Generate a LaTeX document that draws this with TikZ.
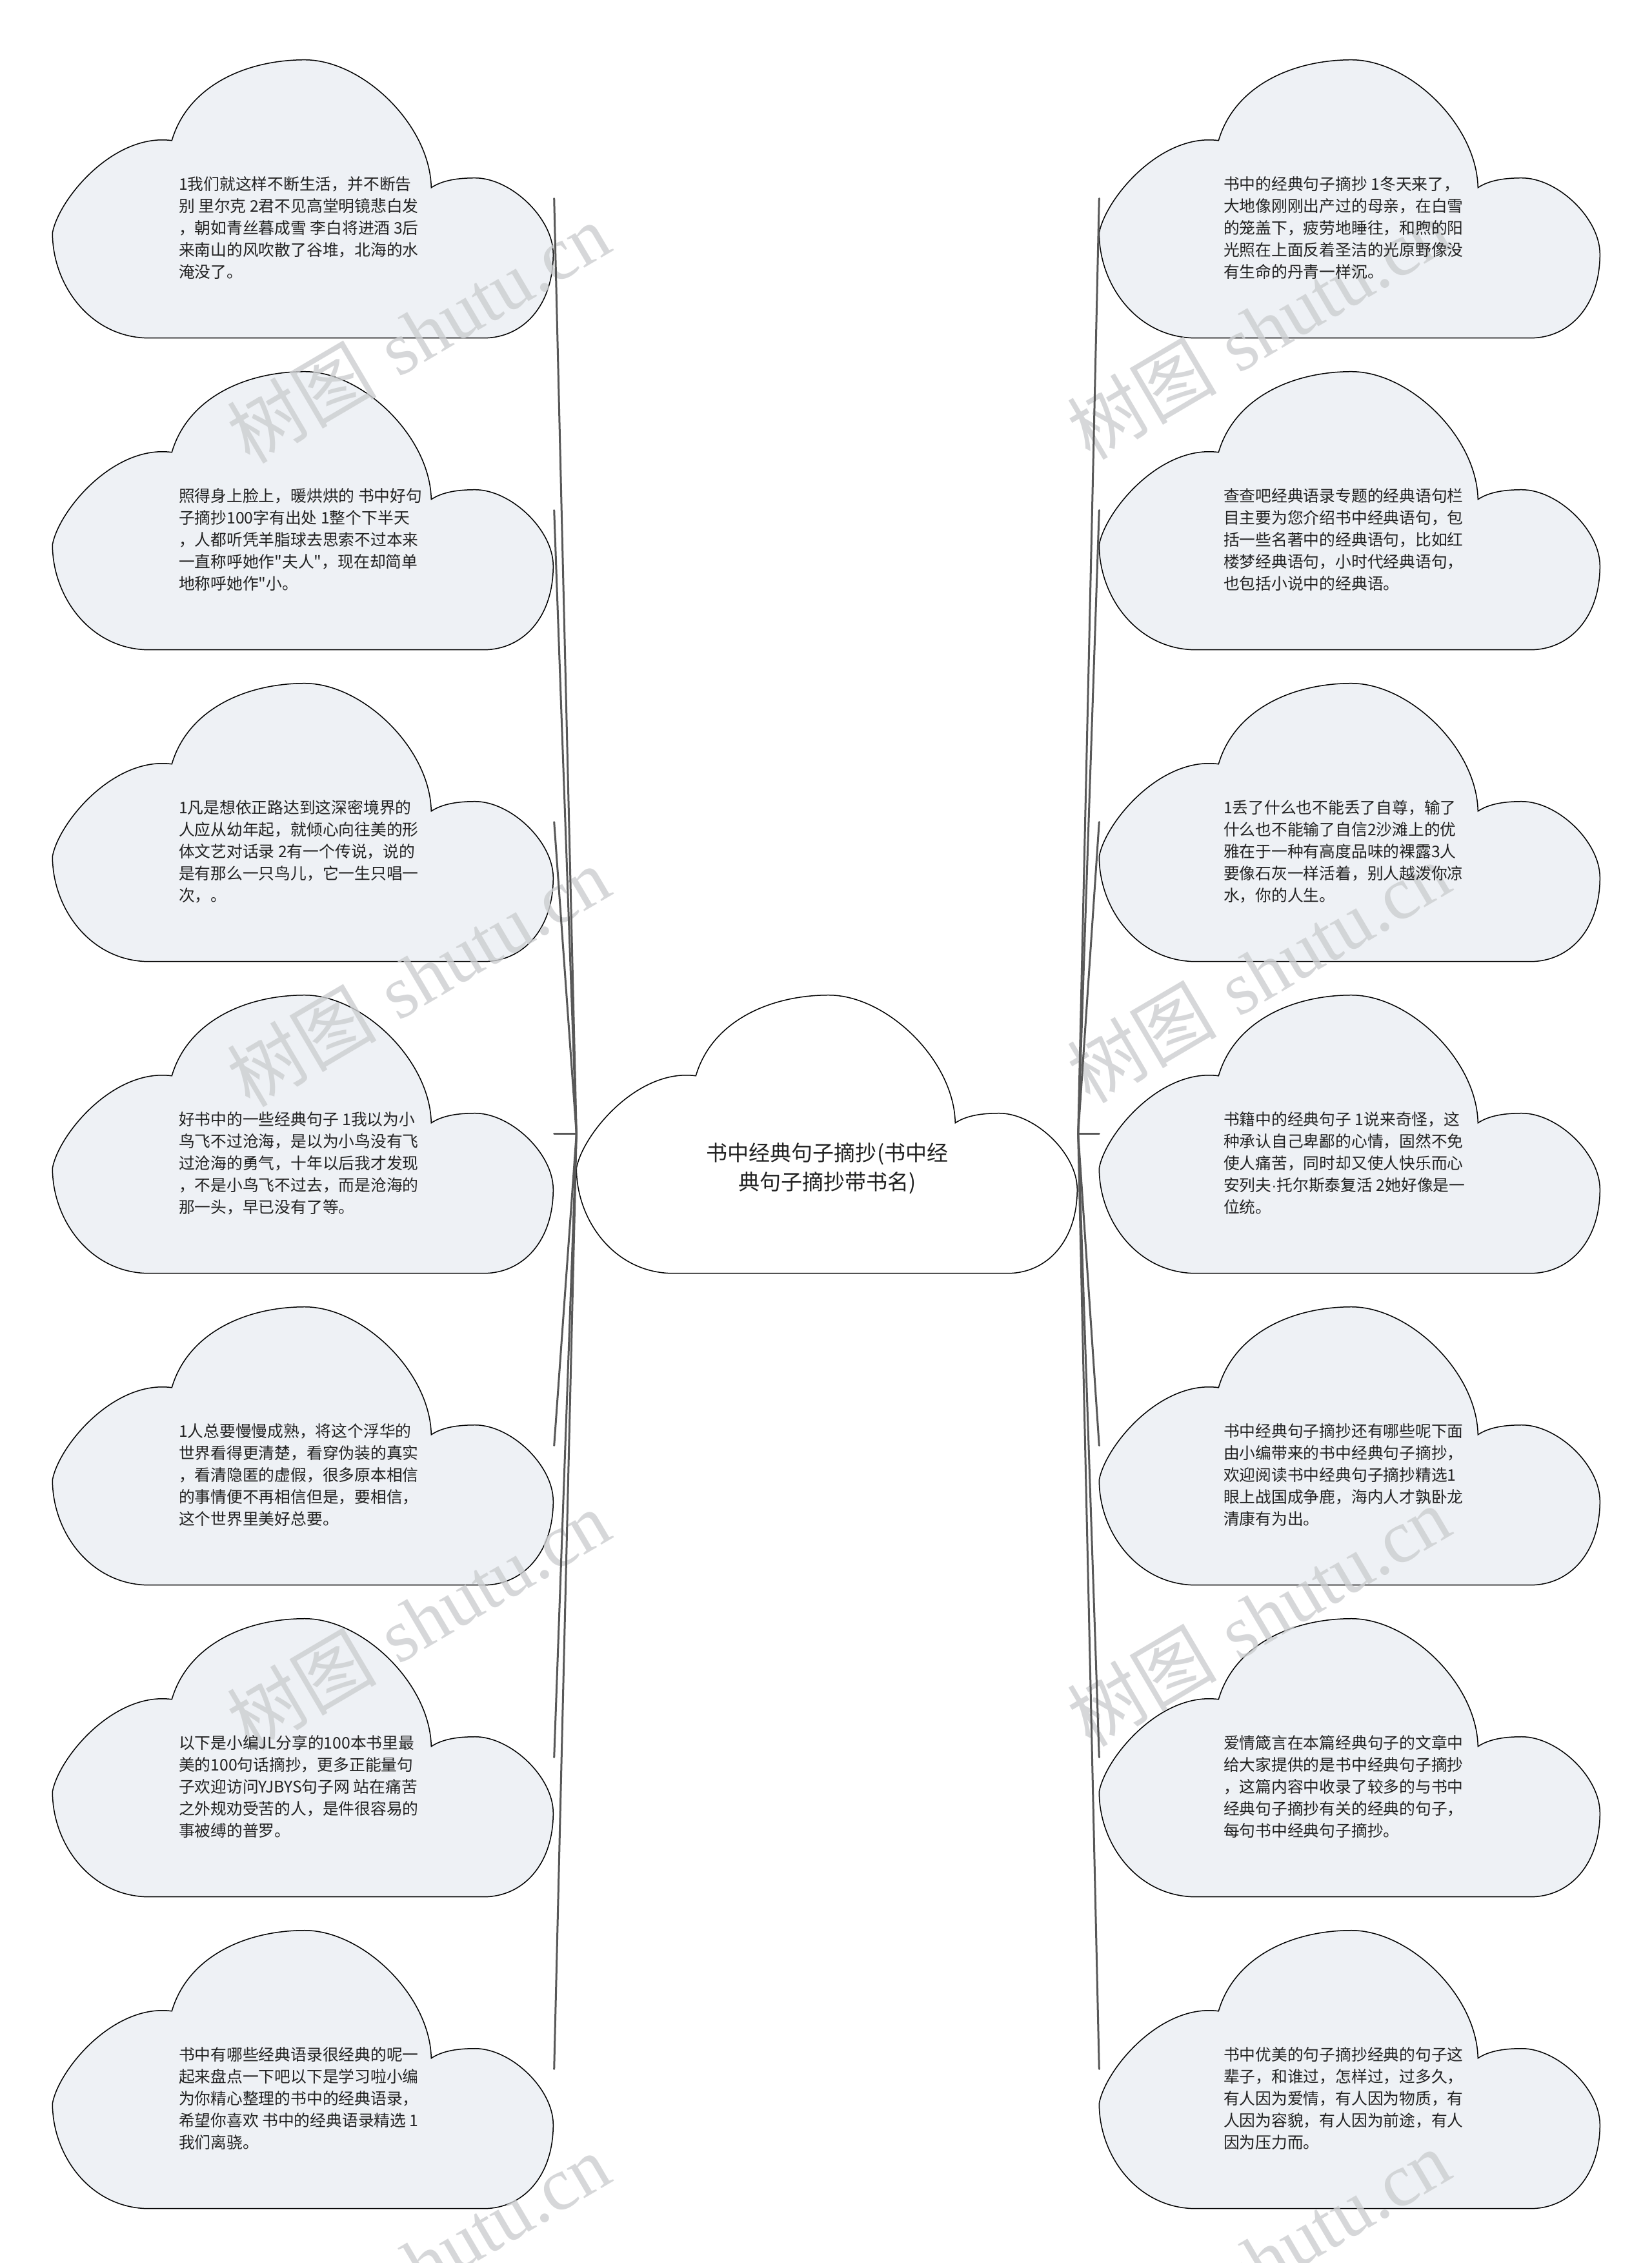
\documentclass[tikz,border=0pt]{standalone}
\usepackage{fontspec}
\newfontfamily\cjk{Noto Sans CJK SC}
\newfontfamily\wmserif{Liberation Serif}
\newfontfamily\latinsans{Liberation Sans}
\usetikzlibrary{positioning}

\definecolor{leaffill}{RGB}{238,241,245}
\definecolor{textgray}{RGB}{34,34,34}
\definecolor{linkgray}{RGB}{88,88,88}
\definecolor{wmgray}{RGB}{204,206,208}

\newcommand\leaffont{\cjk\fontsize{7.05pt}{9.67pt}\selectfont}
\newcommand\rootfont{\cjk\fontsize{9.4pt}{12.8pt}\selectfont}
\newcommand\wmfont{\fontsize{33pt}{36pt}\selectfont}

\tikzset{
  cloudbox/.style={minimum width=7.76cm, minimum height=4.31cm, inner sep=0pt},
  leafcloud/.style={draw=black, line width=0.015cm, fill=leaffill},
  rootcloud/.style={draw=black, line width=0.015cm, fill=white},
  leaftext/.style={anchor=west, align=left, inner sep=0pt, font=\leaffont, text=textgray},
  roottext/.style={align=center, inner sep=0pt, font=\rootfont, text=textgray},
  link/.style={draw=linkgray, line width=0.03cm, line cap=round},
  wmark/.style={text=wmgray, rotate=30.5, inner sep=0pt, font=\wmfont, opacity=0.8},
  cloudshape/.pic={
    \path[pic actions] (1.50,0) -- (6.68,0)
      .. controls (7.30,0) and (7.76,0.51) .. (7.76,1.30)
      .. controls (7.76,1.86) and (7.10,2.48) .. (6.55,2.48)
      .. controls (6.30,2.48) and (6.05,2.45) .. (5.87,2.33)
      .. controls (5.85,3.31) and (4.80,4.31) .. (3.91,4.31)
      .. controls (3.00,4.31) and (2.10,3.91) .. (1.85,3.06)
      .. controls (0.95,3.18) and (0.10,2.16) .. (0,1.63)
      .. controls (0,0.81) and (0.60,0) .. (1.50,0) -- cycle;
  }
}

\begin{document}
\begin{tikzpicture}
% page
\useasboundingbox (0,0) rectangle (25.6,-35.06);
\fill[white] (0,0) rectangle (25.6,-35.06);

% Root cloud
\node[cloudbox] (root) at (12.82,-17.565) {};
\pic[rootcloud] at (root.south west) {cloudshape};

% Left clouds
\node[cloudbox] (l1) at (4.70,-3.075) {};
\pic[leafcloud] at (l1.south west) {cloudshape};
\node[cloudbox] (l2) at (4.70,-7.905) {};
\pic[leafcloud] at (l2.south west) {cloudshape};
\node[cloudbox] (l3) at (4.70,-12.735) {};
\pic[leafcloud] at (l3.south west) {cloudshape};
\node[cloudbox] (l4) at (4.70,-17.565) {};
\pic[leafcloud] at (l4.south west) {cloudshape};
\node[cloudbox] (l5) at (4.70,-22.395) {};
\pic[leafcloud] at (l5.south west) {cloudshape};
\node[cloudbox] (l6) at (4.70,-27.225) {};
\pic[leafcloud] at (l6.south west) {cloudshape};
\node[cloudbox] (l7) at (4.70,-32.055) {};
\pic[leafcloud] at (l7.south west) {cloudshape};

% Right clouds
\node[cloudbox] (r1) at (20.92,-3.075) {};
\pic[leafcloud] at (r1.south west) {cloudshape};
\node[cloudbox] (r2) at (20.92,-7.905) {};
\pic[leafcloud] at (r2.south west) {cloudshape};
\node[cloudbox] (r3) at (20.92,-12.735) {};
\pic[leafcloud] at (r3.south west) {cloudshape};
\node[cloudbox] (r4) at (20.92,-17.565) {};
\pic[leafcloud] at (r4.south west) {cloudshape};
\node[cloudbox] (r5) at (20.92,-22.395) {};
\pic[leafcloud] at (r5.south west) {cloudshape};
\node[cloudbox] (r6) at (20.92,-27.225) {};
\pic[leafcloud] at (r6.south west) {cloudshape};
\node[cloudbox] (r7) at (20.92,-32.055) {};
\pic[leafcloud] at (r7.south west) {cloudshape};

% Watermarks
\node[wmark] (wm1) at (6.48,-5.16) {{\cjk 树图} {\wmserif shutu.cn}};
\node[wmark] (wm2) at (6.48,-15.13) {{\cjk 树图} {\wmserif shutu.cn}};
\node[wmark] (wm3) at (6.48,-25.10) {{\cjk 树图} {\wmserif shutu.cn}};
\node[wmark] (wm4) at (6.48,-35.07) {{\cjk 树图} {\wmserif shutu.cn}};
\node[wmark] (wm5) at (19.50,-5.10) {{\cjk 树图} {\wmserif shutu.cn}};
\node[wmark] (wm6) at (19.50,-15.07) {{\cjk 树图} {\wmserif shutu.cn}};
\node[wmark] (wm7) at (19.50,-25.04) {{\cjk 树图} {\wmserif shutu.cn}};
\node[wmark] (wm8) at (19.50,-35.01) {{\cjk 树图} {\wmserif shutu.cn}};

% Links to the left
\draw[link] (root.west) -- (l1.east);
\draw[link] (root.west) -- (l2.east);
\draw[link] (root.west) -- (l3.east);
\draw[link] (root.west) -- (l4.east);
\draw[link] (root.west) -- (l5.east);
\draw[link] (root.west) -- (l6.east);
\draw[link] (root.west) -- (l7.east);

% Links to the right
\draw[link] (root.east) -- (r1.west);
\draw[link] (root.east) -- (r2.west);
\draw[link] (root.east) -- (r3.west);
\draw[link] (root.east) -- (r4.west);
\draw[link] (root.east) -- (r5.west);
\draw[link] (root.east) -- (r6.west);
\draw[link] (root.east) -- (r7.west);

% Root text
\node[roottext] (roott) at ([yshift=-0.535cm]root.center) {书中经典句子摘抄(书中经\\典句子摘抄带书名)};

% Left texts
\node[leaftext] (l1t) at ([xshift=1.95cm,yshift=-0.455cm]l1.west) {1我们就这样不断生活，并不断告\\别 里尔克 2君不见高堂明镜悲白发\\，朝如青丝暮成雪 李白将进酒 3后\\来南山的风吹散了谷堆，北海的水\\淹没了。};
\node[leaftext] (l2t) at ([xshift=1.95cm,yshift=-0.455cm]l2.west) {照得身上脸上，暖烘烘的 书中好句\\子摘抄100字有出处 1整个下半天\\，人都听凭羊脂球去思索不过本来\\一直称呼她作"夫人"，现在却简单\\地称呼她作"小。};
\node[leaftext] (l3t) at ([xshift=1.95cm,yshift=-0.455cm]l3.west) {1凡是想依正路达到这深密境界的\\人应从幼年起，就倾心向往美的形\\体文艺对话录 2有一个传说，说的\\是有那么一只鸟儿，它一生只唱一\\次，。};
\node[leaftext] (l4t) at ([xshift=1.95cm,yshift=-0.455cm]l4.west) {好书中的一些经典句子 1我以为小\\鸟飞不过沧海，是以为小鸟没有飞\\过沧海的勇气，十年以后我才发现\\，不是小鸟飞不过去，而是沧海的\\那一头，早已没有了等。};
\node[leaftext] (l5t) at ([xshift=1.95cm,yshift=-0.455cm]l5.west) {1人总要慢慢成熟，将这个浮华的\\世界看得更清楚，看穿伪装的真实\\，看清隐匿的虚假，很多原本相信\\的事情便不再相信但是，要相信，\\这个世界里美好总要。};
\node[leaftext] (l6t) at ([xshift=1.95cm,yshift=-0.455cm]l6.west) {以下是小编JL分享的100本书里最\\美的100句话摘抄，更多正能量句\\子欢迎访问YJBYS句子网 站在痛苦\\之外规劝受苦的人，是件很容易的\\事被缚的普罗。};
\node[leaftext] (l7t) at ([xshift=1.95cm,yshift=-0.455cm]l7.west) {书中有哪些经典语录很经典的呢一\\起来盘点一下吧以下是学习啦小编\\为你精心整理的书中的经典语录，\\希望你喜欢 书中的经典语录精选 1\\我们离骁。};

% Right texts
\node[leaftext] (r1t) at ([xshift=1.92cm,yshift=-0.455cm]r1.west) {书中的经典句子摘抄 1冬天来了，\\大地像刚刚出产过的母亲，在白雪\\的笼盖下，疲劳地睡往，和煦的阳\\光照在上面反着圣洁的光原野像没\\有生命的丹青一样沉。};
\node[leaftext] (r2t) at ([xshift=1.92cm,yshift=-0.455cm]r2.west) {查查吧经典语录专题的经典语句栏\\目主要为您介绍书中经典语句，包\\括一些名著中的经典语句，比如红\\楼梦经典语句，小时代经典语句，\\也包括小说中的经典语。};
\node[leaftext] (r3t) at ([xshift=1.92cm,yshift=-0.455cm]r3.west) {1丢了什么也不能丢了自尊，输了\\什么也不能输了自信2沙滩上的优\\雅在于一种有高度品味的裸露3人\\要像石灰一样活着，别人越泼你凉\\水，你的人生。};
\node[leaftext] (r4t) at ([xshift=1.92cm,yshift=-0.455cm]r4.west) {书籍中的经典句子 1说来奇怪，这\\种承认自己卑鄙的心情，固然不免\\使人痛苦，同时却又使人快乐而心\\安列夫{\latinsans ·}托尔斯泰复活 2她好像是一\\位统。};
\node[leaftext] (r5t) at ([xshift=1.92cm,yshift=-0.455cm]r5.west) {书中经典句子摘抄还有哪些呢下面\\由小编带来的书中经典句子摘抄，\\欢迎阅读书中经典句子摘抄精选1\\眼上战国成争鹿，海内人才孰卧龙\\清康有为出。};
\node[leaftext] (r6t) at ([xshift=1.92cm,yshift=-0.455cm]r6.west) {爱情箴言在本篇经典句子的文章中\\给大家提供的是书中经典句子摘抄\\，这篇内容中收录了较多的与书中\\经典句子摘抄有关的经典的句子，\\每句书中经典句子摘抄。};
\node[leaftext] (r7t) at ([xshift=1.92cm,yshift=-0.455cm]r7.west) {书中优美的句子摘抄经典的句子这\\辈子，和谁过，怎样过，过多久，\\有人因为爱情，有人因为物质，有\\人因为容貌，有人因为前途，有人\\因为压力而。};
\end{tikzpicture}
\end{document}
